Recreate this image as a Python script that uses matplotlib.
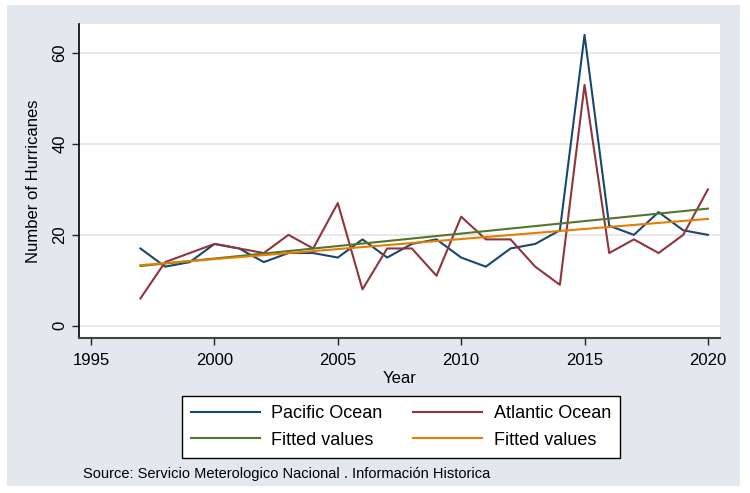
import matplotlib.pyplot as plt
import matplotlib.patches as patches
import numpy as np

plt.rcParams['font.family'] = ['Liberation Sans', 'DejaVu Sans']

years = list(range(1997, 2021))
pacific = [17, 13, 14, 18, 17, 14, 16, 16, 15, 19, 15, 18, 19, 15, 13, 17, 18, 21, 64, 22, 20, 25, 21, 20]
atlantic = [6, 14, 16, 18, 17, 16, 20, 17, 27, 8, 17, 17, 11, 24, 19, 19, 13, 9, 53, 16, 19, 16, 20, 30]
x_ticks = [1995, 2000, 2005, 2010, 2015, 2020]
y_ticks = [0, 20, 40, 60]
source_text = 'Source: Servicio Meterologico Nacional . Información Historica'

navy = '#1a476f'
maroon = '#90353b'
green = '#55752f'
orange = '#e37e00'
bg = '#e3e8ef'

fig = plt.figure(figsize=(7.5, 4.93), dpi=100)
# graph region (light bluish gray box)
fig.patches.append(patches.Rectangle((7/750, 1 - 486/493), 733/750, 481/493,
                                     transform=fig.transFigure, facecolor=bg,
                                     edgecolor='none', zorder=-10))

ax = fig.add_axes([79/750, 1 - 338/493, (720 - 79)/750, (338 - 24)/493])
ax.set_facecolor('white')

yr = np.array(years)
# linear fits (Stata lfit)
fit_p = np.polyval(np.polyfit(yr, pacific, 1), yr)
fit_a = np.polyval(np.polyfit(yr, atlantic, 1), yr)

lw = 1.5
l1, = ax.plot(years, pacific, color=navy, lw=lw)
l2, = ax.plot(years, atlantic, color=maroon, lw=lw)
l3, = ax.plot(years, fit_p, color=green, lw=lw)
l4, = ax.plot(years, fit_a, color=orange, lw=lw)

ax.set_xlim(1994.51, 2020.49)
ax.set_ylim(-2.7, 66.4)
ax.set_xticks(x_ticks)
ax.set_yticks(y_ticks)
ax.grid(axis='y', color='#e4e4e4', lw=1.2)
ax.set_axisbelow(True)

for s in ['top', 'right']:
    ax.spines[s].set_visible(False)
ax.spines['left'].set_color('black')
ax.spines['bottom'].set_color('#444444')
ax.spines['left'].set_linewidth(1.2)
ax.spines['bottom'].set_linewidth(1.5)

ax.tick_params(axis='both', direction='out', length=5, width=1, labelsize=12, color='#222222')
ax.tick_params(axis='x', pad=6)
for lab in ax.get_yticklabels():
    lab.set_rotation(90)
    lab.set_va('center')

ax.set_xlabel('Year', fontsize=12, labelpad=2)
ax.set_ylabel('Number of Hurricanes', fontsize=12, labelpad=8)

# column-major order so rows read Pacific/Atlantic, Fitted/Fitted
leg = fig.legend([l1, l3, l2, l4],
                 ['Pacific Ocean', 'Fitted values', 'Atlantic Ocean', 'Fitted values'],
                 ncol=2, loc='center', bbox_to_anchor=(401/750, 1 - 427/493),
                 fontsize=13, frameon=True, fancybox=False, handlelength=3.8,
                 handletextpad=0.65, columnspacing=1.7, borderpad=0.5, labelspacing=0.5)
leg.get_frame().set_edgecolor('black')
leg.get_frame().set_linewidth(1.0)
leg.get_frame().set_facecolor('white')
leg.get_frame().set_alpha(1)

fig.text(83/750, 1 - 474/493, source_text, fontsize=10.5, va='center', ha='left')

fig.savefig('out.png', dpi=100)
